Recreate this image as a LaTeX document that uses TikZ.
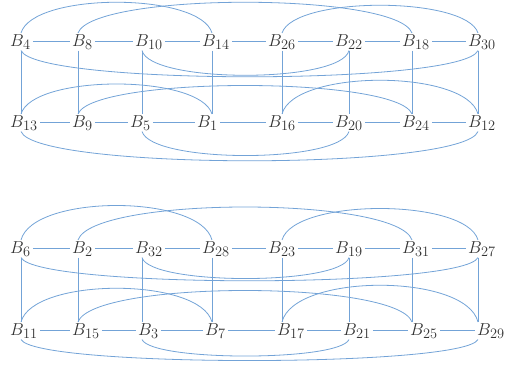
\documentclass[tikz,border=0pt]{standalone}
\begin{document}
\begin{tikzpicture}[x=1pt,y=-1pt,
  lbl/.style={anchor=base west, inner xsep=2pt, inner ysep=1pt, font=\fontsize{19}{21}\selectfont, text=black!80},
  link/.style={draw=linkblue, line width=0.8pt}]
\definecolor{linkblue}{RGB}{115,163,215}
\useasboundingbox (0,0) rectangle (508,368);
% column coordinates
\foreach \n/\x in {1/21,2/78,3/142,4/212,5/282,6/349,7/412,8/478}
  \coordinate (k\n) at (\x,0);
% upper block
\node[lbl] (b4)  at (8,46)   {$B_{4}$};
\node[lbl] (b8)  at (70,46)  {$B_{8}$};
\node[lbl] (b10) at (133,46) {$B_{10}$};
\node[lbl] (b14) at (200,46) {$B_{14}$};
\node[lbl] (b26) at (266,46) {$B_{26}$};
\node[lbl] (b22) at (333,46) {$B_{22}$};
\node[lbl] (b18) at (400,46) {$B_{18}$};
\node[lbl] (b30) at (466,46) {$B_{30}$};
\node[lbl] (b13) at (8,127)   {$B_{13}$};
\node[lbl] (b9)  at (70,127)  {$B_{9}$};
\node[lbl] (b5)  at (128,127) {$B_{5}$};
\node[lbl] (b1)  at (195,127) {$B_{1}$};
\node[lbl] (b16) at (266,127) {$B_{16}$};
\node[lbl] (b20) at (333,127) {$B_{20}$};
\node[lbl] (b24) at (400,127) {$B_{24}$};
\node[lbl] (b12) at (466,127) {$B_{12}$};
% lower block
\node[lbl] (b6)  at (8,253)   {$B_{6}$};
\node[lbl] (b2)  at (70,253)  {$B_{2}$};
\node[lbl] (b32) at (133,253) {$B_{32}$};
\node[lbl] (b28) at (200,253) {$B_{28}$};
\node[lbl] (b23) at (266,253) {$B_{23}$};
\node[lbl] (b19) at (333,253) {$B_{19}$};
\node[lbl] (b31) at (400,253) {$B_{31}$};
\node[lbl] (b27) at (466,253) {$B_{27}$};
\node[lbl] (b11) at (8,335)   {$B_{11}$};
\node[lbl] (b15) at (70,335)  {$B_{15}$};
\node[lbl] (b3)  at (136,335) {$B_{3}$};
\node[lbl] (b7)  at (203,335) {$B_{7}$};
\node[lbl] (b17) at (275,335) {$B_{17}$};
\node[lbl] (b21) at (341,335) {$B_{21}$};
\node[lbl] (b25) at (408,335) {$B_{25}$};
\node[lbl] (b29) at (475,335) {$B_{29}$};

% horizontal links
\draw[link] (b4)--(b8) (b8)--(b10) (b10)--(b14) (b14)--(b26) (b26)--(b22) (b22)--(b18) (b18)--(b30);
\draw[link] (b13)--(b9) (b9)--(b5) (b5)--(b1) (b1)--(b16) (b16)--(b20) (b20)--(b24) (b24)--(b12);
\draw[link] (b6)--(b2) (b2)--(b32) (b32)--(b28) (b28)--(b23) (b23)--(b19) (b19)--(b31) (b31)--(b27);
\draw[link] (b11)--(b15) (b15)--(b3) (b3)--(b7) (b7)--(b17) (b17)--(b21) (b21)--(b25) (b25)--(b29);

% vertical links
\draw[link] (b4.south -| k1) -- (b13.north -| k1);
\draw[link] (b8.south -| k2) -- (b9.north -| k2);
\draw[link] (b10.south -| k3) -- (b5.north -| k3);
\draw[link] (b14.south -| k4) -- (b1.north -| k4);
\draw[link] (b26.south -| k5) -- (b16.north -| k5);
\draw[link] (b22.south -| k6) -- (b20.north -| k6);
\draw[link] (b18.south -| k7) -- (b24.north -| k7);
\draw[link] (b30.south -| k8) -- (b12.north -| k8);
\draw[link] (b6.south -| k1) -- (b11.north -| k1);
\draw[link] (b2.south -| k2) -- (b15.north -| k2);
\draw[link] (b32.south -| k3) -- (b3.north -| k3);
\draw[link] (b28.south -| k4) -- (b7.north -| k4);
\draw[link] (b23.south -| k5) -- (b17.north -| k5);
\draw[link] (b19.south -| k6) -- (b21.north -| k6);
\draw[link] (b31.south -| k7) -- (b25.north -| k7);
\draw[link] (b27.south -| k8) -- (b29.north -| k8);

% arcs, upper block
\draw[link] (b4.north -| k1) .. controls +(12,-41) and +(-12,-41) .. (b14.north -| k4);
\draw[link] (b8.north -| k2) .. controls +(15,-41) and +(-15,-41) .. (b18.north -| k7);
\draw[link] (b26.north -| k5) .. controls +(12,-37) and +(-12,-37) .. (b30.north -| k8);
\draw[link] (b4.south -| k1) .. controls +(15,35) and +(-15,35) .. (b30.south -| k8);
\draw[link] (b10.south -| k3) .. controls +(8,33) and +(-8,33) .. (b22.south -| k6);
\draw[link] (b13.north -| k1) .. controls +(12,-40) and +(-12,-40) .. (b1.north -| k4);
\draw[link] (b9.north -| k2) .. controls +(15,-38) and +(-15,-38) .. (b24.north -| k7);
\draw[link] (b16.north -| k5) .. controls +(12,-45) and +(-12,-45) .. (b12.north -| k8);
\draw[link] (b13.south -| k1) .. controls +(15,39) and +(-15,39) .. (b12.south -| k8);
\draw[link] (b5.south -| k3) .. controls +(10,32) and +(-10,32) .. (b20.south -| k6);

% arcs, lower block
\draw[link] (b6.north -| k1) .. controls +(12,-46) and +(-12,-46) .. (b28.north -| k4);
\draw[link] (b2.north -| k2) .. controls +(15,-44) and +(-15,-44) .. (b31.north -| k7);
\draw[link] (b23.north -| k5) .. controls +(12,-42) and +(-12,-42) .. (b27.north -| k8);
\draw[link] (b6.south -| k1) .. controls +(15,31) and +(-15,31) .. (b27.south -| k8);
\draw[link] (b32.south -| k3) .. controls +(8,28) and +(-8,28) .. (b19.south -| k6);
\draw[link] (b11.north -| k1) .. controls +(12,-45) and +(-12,-45) .. (b7.north -| k4);
\draw[link] (b15.north -| k2) .. controls +(15,-42) and +(-15,-42) .. (b25.north -| k7);
\draw[link] (b17.north -| k5) .. controls +(12,-49) and +(-12,-49) .. (b29.north -| k8);
\draw[link] (b11.south -| k1) .. controls +(15,28) and +(-15,28) .. (b29.south -| k8);
\draw[link] (b3.south -| k3) .. controls +(10,22) and +(-10,22) .. (b21.south -| k6);
\end{tikzpicture}
\end{document}
